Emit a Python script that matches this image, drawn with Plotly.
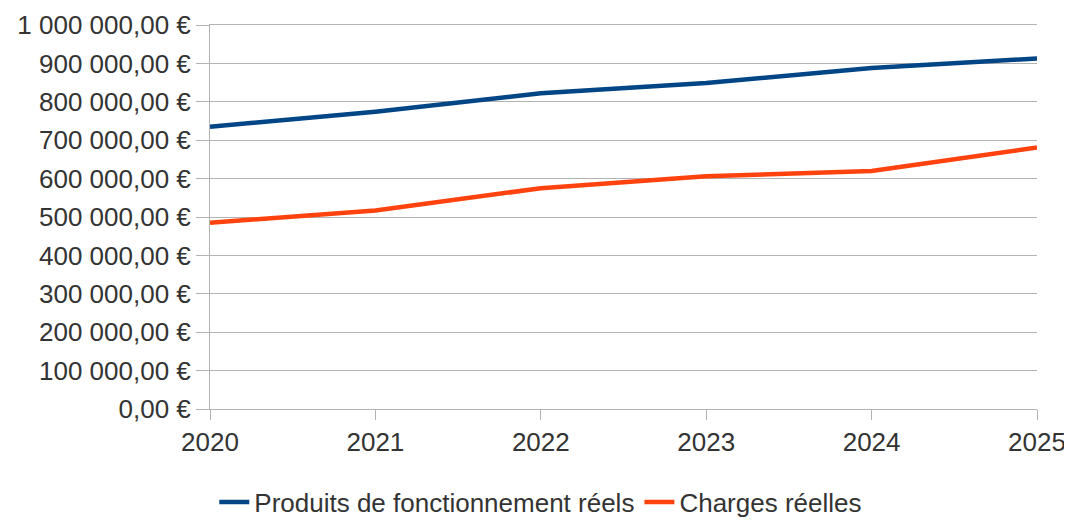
import plotly.graph_objects as go

years = [2020, 2021, 2022, 2023, 2024, 2025]
produits = [735000, 774000, 822000, 849000, 888000, 913000]
charges = [485000, 517000, 575000, 606000, 620000, 681000]
y_ticks = [0, 100000, 200000, 300000, 400000, 500000, 600000, 700000, 800000, 900000, 1000000]
y_labels = ["0,00 €", "100 000,00 €", "200 000,00 €", "300 000,00 €", "400 000,00 €",
            "500 000,00 €", "600 000,00 €", "700 000,00 €", "800 000,00 €", "900 000,00 €",
            "1 000 000,00 €"]

fig = go.Figure()
fig.add_trace(go.Scatter(x=years, y=produits, mode="lines", name="Produits de fonctionnement réels",
                         line=dict(color="#004586", width=4.5)))
fig.add_trace(go.Scatter(x=years, y=charges, mode="lines", name="Charges réelles",
                         line=dict(color="#ff420e", width=4.5)))

fig.update_layout(
    width=1072, height=520,
    margin=dict(l=202, r=43, t=17, b=119),
    paper_bgcolor="white", plot_bgcolor="white",
    font=dict(family="Liberation Sans, Arial, sans-serif", size=26, color="#333333"),
    showlegend=True,
    legend=dict(orientation="h", xref="container", yref="container",
                x=0.497, xanchor="center", y=0.05, yanchor="middle",
                font=dict(size=26, color="#333333"), tracegroupgap=0),
    xaxis=dict(range=[2020, 2025], tickvals=years, ticktext=[str(y) for y in years],
               showgrid=False, showline=True, linecolor="#b3b3b3", linewidth=1, mirror=True,
               ticks="outside", ticklen=10, tickcolor="#b3b3b3", zeroline=False,
               automargin=False, tickfont=dict(size=26, color="#333333")),
    yaxis=dict(range=[0, 1000000], tickvals=y_ticks, ticktext=y_labels,
               showgrid=True, gridcolor="#b3b3b3", gridwidth=1,
               showline=True, linecolor="#b3b3b3", linewidth=1,
               ticks="outside", ticklen=13, tickcolor="#b3b3b3", zeroline=False,
               automargin=False, tickfont=dict(size=26, color="#333333")),
)

fig.write_html("out.html")
